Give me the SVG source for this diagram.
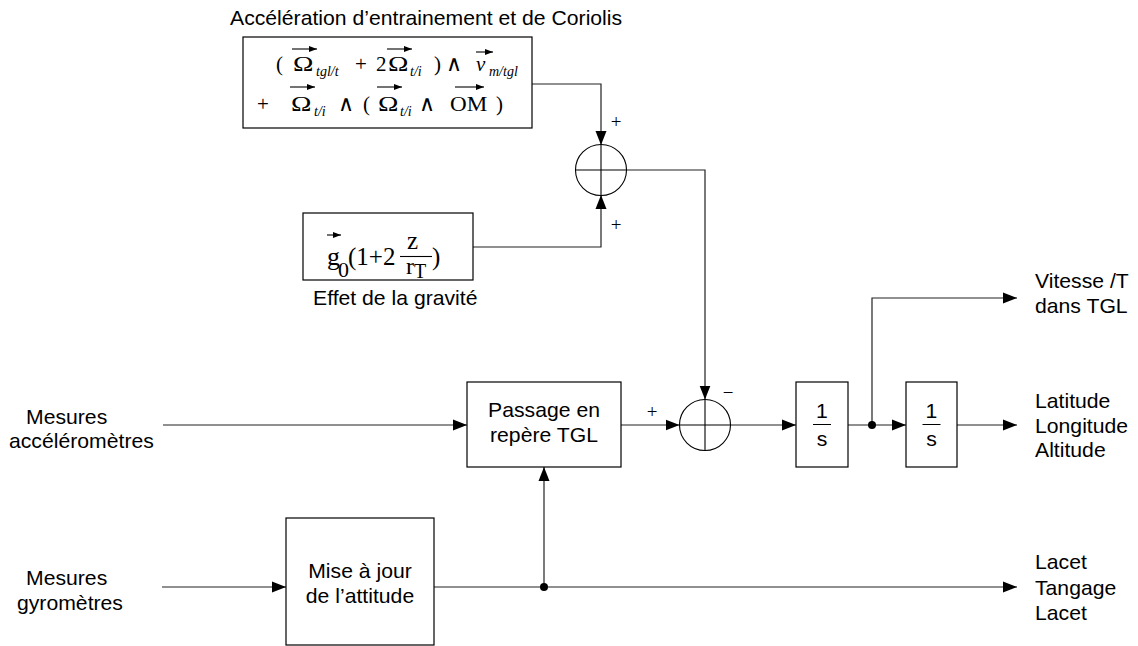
<svg xmlns="http://www.w3.org/2000/svg" width="1138" height="646" viewBox="0 0 1138 646">
<defs>
<marker id="ah" markerUnits="userSpaceOnUse" markerWidth="14" markerHeight="12" refX="14" refY="6" orient="auto"><path d="M0,0.5 L14,6 L0,11.5 z" fill="#000"/></marker>
<marker id="va" markerUnits="userSpaceOnUse" markerWidth="8" markerHeight="6" refX="8" refY="3" orient="auto"><path d="M0,0 L8,3 L0,6 z" fill="#000"/></marker>
</defs>
<style>
.box{fill:#fff;stroke:#000;stroke-width:1.2}
.ln{fill:none;stroke:#222;stroke-width:1.2}
.ar{marker-end:url(#ah)}
.sum{fill:#fff;stroke:#000;stroke-width:1.1}
.x{stroke:#000;stroke-width:1.1}
.t{font-family:"Liberation Sans",Arial,sans-serif;font-size:20px;fill:#000}
.m{font-family:"Liberation Serif","Times New Roman","DejaVu Serif",serif;font-size:21px;fill:#000}
.om{font-family:"Liberation Serif","Times New Roman","DejaVu Serif",serif;font-size:22px;fill:#000}
.w{font-family:"DejaVu Sans",sans-serif;font-weight:200;font-size:22px;fill:#000}
.s{font-family:"Liberation Serif","Times New Roman","DejaVu Serif",serif;font-size:14px;font-style:italic;fill:#000}
.sg{font-family:"Liberation Serif","Times New Roman","DejaVu Serif",serif;font-size:19px;fill:#000;text-anchor:middle}
.vec{fill:none;stroke:#000;stroke-width:1.1;marker-end:url(#va)}
.c{text-anchor:middle}
</style>
<rect width="1138" height="646" fill="#fff"/>

<g id="connectors">
<path class="ln ar" d="M532,84 H601 V145"/>
<path class="ln ar" d="M473,247 H601 V195"/>
<path class="ln ar" d="M626.5,170 H705 V399.5"/>
<path class="ln ar" d="M163,425 H467"/>
<path class="ln ar" d="M621,425 H679.5"/>
<path class="ln ar" d="M730.5,425 H796"/>
<path class="ln ar" d="M848,425 H906"/>
<path class="ln ar" d="M872,425 V298 H1017"/>
<path class="ln ar" d="M957,425 H1017"/>
<path class="ln ar" d="M162,587 H286"/>
<path class="ln ar" d="M434,587 H1017"/>
<path class="ln ar" d="M544,587 V467"/>
<circle cx="872" cy="425" r="4" fill="#000"/>
<circle cx="544" cy="587" r="4" fill="#000"/>
<text class="sg" x="616" y="128">+</text>
<text class="sg" x="616" y="231">+</text>
<text class="sg" x="652" y="418">+</text>
<text class="sg" x="728" y="399">−</text>
</g>

<g id="box-coriolis">
<text class="t" transform="translate(230 25) scale(1.06 1)">Accélération d’entrainement et de Coriolis</text>
<rect class="box" x="243" y="37" width="289" height="91"/>
<text class="m" x="276" y="71">(</text>
<text class="om" transform="translate(293 71) scale(1.25 1)">Ω</text>
<line class="vec" x1="292" y1="49" x2="317" y2="49"/>
<text class="s" x="316" y="75.5">tgl/t</text>
<text class="m" x="355" y="71">+</text>
<text class="m" x="376" y="71">2</text>
<text class="om" transform="translate(388 71) scale(1.25 1)">Ω</text>
<line class="vec" x1="387" y1="49" x2="412" y2="49"/>
<text class="s" x="410" y="75.5">t/i</text>
<text class="m" x="434" y="71">)</text>
<text class="w" x="446" y="71">∧</text>
<text class="m" x="476" y="71" style="font-style:italic">v</text>
<line class="vec" x1="476" y1="52" x2="493" y2="52"/>
<text class="s" x="489" y="75.5">m/tgl</text>
<text class="m" x="257" y="111">+</text>
<text class="om" transform="translate(291 111) scale(1.25 1)">Ω</text>
<line class="vec" x1="290" y1="87" x2="315" y2="87"/>
<text class="s" x="314" y="116">t/i</text>
<text class="w" x="338" y="111">∧</text>
<text class="m" x="363" y="111">(</text>
<text class="om" transform="translate(378 111) scale(1.25 1)">Ω</text>
<line class="vec" x1="377" y1="87" x2="402" y2="87"/>
<text class="s" x="400" y="116">t/i</text>
<text class="w" x="419" y="111">∧</text>
<text class="m" transform="translate(450 111) scale(1.1 1)">OM</text>
<line class="vec" x1="455" y1="87" x2="484" y2="87"/>
<text class="m" x="496" y="111">)</text>
</g>

<g id="box-gravity">
<rect class="box" x="303" y="213" width="170" height="67"/>
<text class="m" x="327" y="265" style="font-size:26px">g</text>
<line class="vec" x1="327" y1="235" x2="341" y2="235"/>
<text class="m" x="338" y="277" style="font-size:22px">0</text>
<text class="m" x="348" y="265" style="font-size:25px">(1+2</text>
<text class="m" x="407" y="249" style="font-size:25px">z</text>
<line x1="400" y1="256.5" x2="432" y2="256.5" stroke="#000" stroke-width="1.1"/>
<text class="m" x="406" y="274" style="font-size:24px">r</text>
<text class="m" x="414" y="278" style="font-size:20px">T</text>
<text class="m" x="432" y="265" style="font-size:25px">)</text>
<text class="t" transform="translate(313 305) scale(1.06 1)">Effet de la gravité</text>
</g>

<g id="sum1">
<circle class="sum" cx="601" cy="170" r="25.5"/>
<line class="x" x1="575.5" y1="170" x2="626.5" y2="170"/>
<line class="x" x1="601" y1="144.5" x2="601" y2="195.5"/>
</g>

<g id="sum2">
<circle class="sum" cx="705" cy="425" r="25.5"/>
<line class="x" x1="679.5" y1="425" x2="730.5" y2="425"/>
<line class="x" x1="705" y1="399.5" x2="705" y2="450.5"/>
</g>

<g id="box-passage">
<rect class="box" x="467" y="382" width="154" height="85"/>
<text class="t c" transform="translate(544 417) scale(1.06 1)">Passage en</text>
<text class="t c" transform="translate(544 442) scale(1.06 1)">repère TGL</text>
</g>

<g id="box-mise">
<rect class="box" x="286" y="518" width="148" height="127"/>
<text class="t c" transform="translate(360 578) scale(1.06 1)">Mise à jour</text>
<text class="t c" transform="translate(360 603) scale(1.06 1)">de l’attitude</text>
</g>

<g id="int1">
<rect class="box" x="796" y="382" width="52" height="85"/>
<text class="t c" transform="translate(822 418) scale(1.06 1)">1</text>
<line x1="813" y1="424.5" x2="831" y2="424.5" stroke="#000" stroke-width="1"/>
<text class="t c" transform="translate(822 446) scale(1.06 1)">s</text>
</g>

<g id="int2">
<rect class="box" x="906" y="382" width="51" height="85"/>
<text class="t c" transform="translate(931.5 418) scale(1.06 1)">1</text>
<line x1="922.5" y1="424.5" x2="940.5" y2="424.5" stroke="#000" stroke-width="1"/>
<text class="t c" transform="translate(931.5 446) scale(1.06 1)">s</text>
</g>

<g id="in-acc">
<text class="t" transform="translate(26 424) scale(1.06 1)">Mesures</text>
<text class="t" transform="translate(9 448) scale(1.06 1)">accéléromètres</text>
</g>
<g id="in-gyro">
<text class="t" transform="translate(26 585) scale(1.06 1)">Mesures</text>
<text class="t" transform="translate(17 610) scale(1.06 1)">gyromètres</text>
</g>
<g id="out-vitesse">
<text class="t" transform="translate(1035 288) scale(1.06 1)">Vitesse /T</text>
<text class="t" transform="translate(1035 313) scale(1.06 1)">dans TGL</text>
</g>
<g id="out-position">
<text class="t" transform="translate(1035 408) scale(1.06 1)">Latitude</text>
<text class="t" transform="translate(1035 433) scale(1.06 1)">Longitude</text>
<text class="t" transform="translate(1035 457) scale(1.06 1)">Altitude</text>
</g>
<g id="out-attitude">
<text class="t" transform="translate(1035 569) scale(1.06 1)">Lacet</text>
<text class="t" transform="translate(1035 595) scale(1.06 1)">Tangage</text>
<text class="t" transform="translate(1035 620) scale(1.06 1)">Lacet</text>
</g>
</svg>
